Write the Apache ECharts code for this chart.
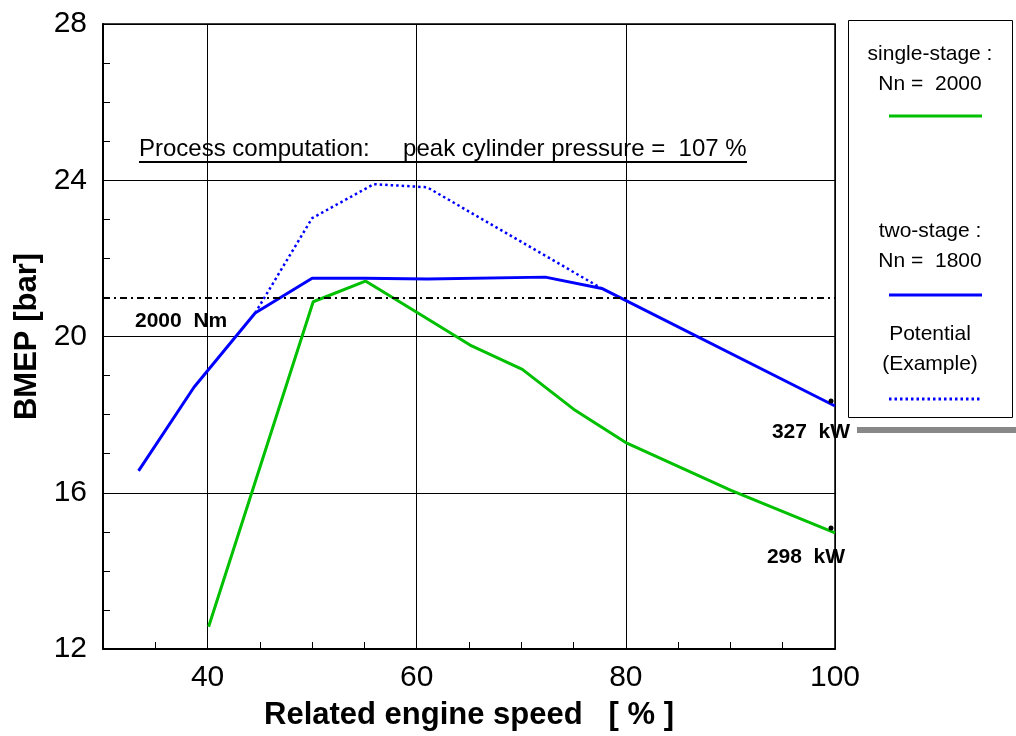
<!DOCTYPE html>
<html>
<head>
<meta charset="utf-8">
<style>
  html, body {
    margin: 0;
    padding: 0;
    background: #fff;
  }
  #chart {
    width: 1016px;
    height: 736px;
  }
</style>
</head>
<body>
<div id="chart"></div>
<script src="https://cdn.jsdelivr.net/npm/echarts@6/dist/echarts.min.js"></script>
<script>
// related engine speed [%] -> BMEP [bar]
const singleStageSpeed = [40.1, 50.1, 55.1, 60, 65.1, 70.1, 75, 80.1, 90, 100]
const singleStageBmep = [12.57, 20.89, 21.42, 20.62, 19.78, 19.16, 18.14, 17.27, 16.07, 14.97]
const twoStageSpeed = [33.4, 38.7, 44.55, 50, 55, 61, 72.3, 77.7, 100]
const twoStageBmep = [16.56, 18.7, 20.6, 21.49, 21.49, 21.47, 21.52, 21.23, 18.22]
const potentialSpeed = [44.55, 50, 55.9, 61, 77.7]
const potentialBmep = [20.6, 23.03, 23.9, 23.82, 21.23]

const torqueLimitBmep = 21
const torqueLimitLabel = '2000  Nm'
const ratedPowerLabels = ['298  kW', '327  kW']
const seriesNames = ['single-stage :\nNn =  2000', 'two-stage :\nNn =  1800', 'Potential\n(Example)']
const noteText = 'Process computation:     peak cylinder pressure =  107 %'

const GREEN = '#00C000'
const BLUE = '#0000FF'
const FONT = "'Liberation Sans', Arial, sans-serif"

function pairs (xs, ys) {
  return xs.map((x, i) => [x, ys[i]])
}

// last point gets the small black marker and the power label
function withEndLabel (data, text, distance, dx) {
  const last = data.length - 1
  data[last] = {
    value: data[last],
    symbol: 'circle',
    symbolSize: 5,
    symbolOffset: [-4, -5],
    itemStyle: { color: '#000' },
    label: {
      show: true,
      formatter: text,
      position: 'bottom',
      distance: distance,
      offset: [dx, 0],
      color: '#000',
      fontFamily: FONT,
      fontWeight: 'bold',
      fontSize: 21
    }
  }
  return data
}

const chart = echarts.init(document.getElementById('chart'), null, { renderer: 'canvas' })

// legend is a framed box with the text above each line sample
const legendRows = [
  { text: seriesNames[0], textY: 69, lineY: 116, color: GREEN, type: 'solid' },
  { text: seriesNames[1], textY: 246, lineY: 295, color: BLUE, type: 'solid' },
  { text: seriesNames[2], textY: 349, lineY: 399, color: BLUE, type: 'dotted' }
]
const legendGraphics = [{
  type: 'rect',
  shape: { x: 848.5, y: 20.5, width: 164, height: 397 },
  style: { fill: '#fff', stroke: '#000', lineWidth: 1 }
}]
legendRows.forEach(row => {
  legendGraphics.push({
    type: 'text',
    x: 930,
    y: row.textY,
    style: {
      text: row.text,
      fill: '#000',
      font: '21px ' + FONT,
      lineHeight: 30,
      align: 'center',
      verticalAlign: 'middle'
    }
  })
  legendGraphics.push({
    type: 'line',
    shape: { x1: 889, y1: row.lineY, x2: 982, y2: row.lineY },
    style: {
      stroke: row.color,
      lineWidth: 3,
      lineDash: row.type === 'dotted' ? [2.5, 3] : null
    }
  })
})

const option = {
  animation: false,
  backgroundColor: '#fff',
  grid: {
    left: 103,
    right: 181,
    top: 24,
    bottom: 87,
    show: true,
    borderColor: '#000',
    borderWidth: 1.5,
    backgroundColor: 'transparent'
  },
  xAxis: {
    type: 'value',
    min: 30,
    max: 100,
    interval: 10,
    name: 'Related engine speed   [ % ]',
    nameLocation: 'middle',
    nameGap: 51,
    nameTextStyle: { color: '#000', fontFamily: FONT, fontWeight: 'bold', fontSize: 31 },
    axisLine: { show: true, lineStyle: { color: '#000', width: 2 } },
    axisTick: { show: true, inside: true, length: 7, lineStyle: { color: '#000', width: 1 } },
    minorTick: { show: true, splitNumber: 2, length: 7, lineStyle: { color: '#000', width: 1 } },
    axisLabel: {
      color: '#000',
      fontFamily: FONT,
      fontSize: 30,
      margin: 14,
      formatter: v => (v % 20 === 0 ? String(v) : '')
    },
    // grid lines only at 40 / 60 / 80
    splitLine: { show: true, lineStyle: { color: ['rgba(0,0,0,0)', '#000'], width: 1 } }
  },
  yAxis: {
    type: 'value',
    min: 12,
    max: 28,
    interval: 4,
    name: 'BMEP [bar]',
    nameLocation: 'middle',
    nameGap: 60,
    nameRotate: 90,
    nameTextStyle: { color: '#000', fontFamily: FONT, fontWeight: 'bold', fontSize: 31 },
    axisLine: { show: true, lineStyle: { color: '#000', width: 2 } },
    axisTick: { show: true, inside: true, length: 7, lineStyle: { color: '#000', width: 1 } },
    minorTick: { show: true, splitNumber: 4, length: 7, lineStyle: { color: '#000', width: 1 } },
    axisLabel: { color: '#000', fontFamily: FONT, fontSize: 30, margin: 16 },
    splitLine: { show: true, lineStyle: { color: '#000', width: 1 } }
  },
  graphic: [
    {
      type: 'text',
      x: 139,
      y: 149,
      style: {
        text: noteText,
        fill: '#000',
        font: '24px ' + FONT,
        verticalAlign: 'middle'
      }
    },
    {
      type: 'line',
      shape: { x1: 139, y1: 162, x2: 747, y2: 162 },
      style: { stroke: '#000', lineWidth: 2 }
    },
    {
      type: 'rect',
      shape: { x: 857, y: 427, width: 159, height: 6 },
      style: { fill: '#888' }
    }
  ].concat(legendGraphics),
  series: [
    {
      name: seriesNames[2],
      type: 'line',
      symbol: 'none',
      lineStyle: { color: BLUE, width: 2.5, type: [2.5, 3] },
      data: pairs(potentialSpeed, potentialBmep),
      markLine: {
        silent: true,
        symbol: ['none', 'none'],
        lineStyle: { color: '#000', width: 2, type: [7, 4, 2, 4] },
        label: {
          show: true,
          formatter: torqueLimitLabel,
          position: 'insideStartBottom',
          distance: 13,
          padding: [0, 0, 0, 19],
          color: '#000',
          fontFamily: FONT,
          fontWeight: 'bold',
          fontSize: 21
        },
        data: [{ yAxis: torqueLimitBmep }]
      }
    },
    {
      name: seriesNames[0],
      type: 'line',
      symbol: 'none',
      showSymbol: true,
      lineStyle: { color: GREEN, width: 3 },
      itemStyle: { color: GREEN },
      data: withEndLabel(pairs(singleStageSpeed, singleStageBmep), ratedPowerLabels[0], 16, -25)
    },
    {
      name: seriesNames[1],
      type: 'line',
      symbol: 'none',
      showSymbol: true,
      lineStyle: { color: BLUE, width: 3 },
      itemStyle: { color: BLUE },
      data: withEndLabel(pairs(twoStageSpeed, twoStageBmep), ratedPowerLabels[1], 18, -20)
    }
  ]
}

chart.setOption(option)
</script>
</body>
</html>
